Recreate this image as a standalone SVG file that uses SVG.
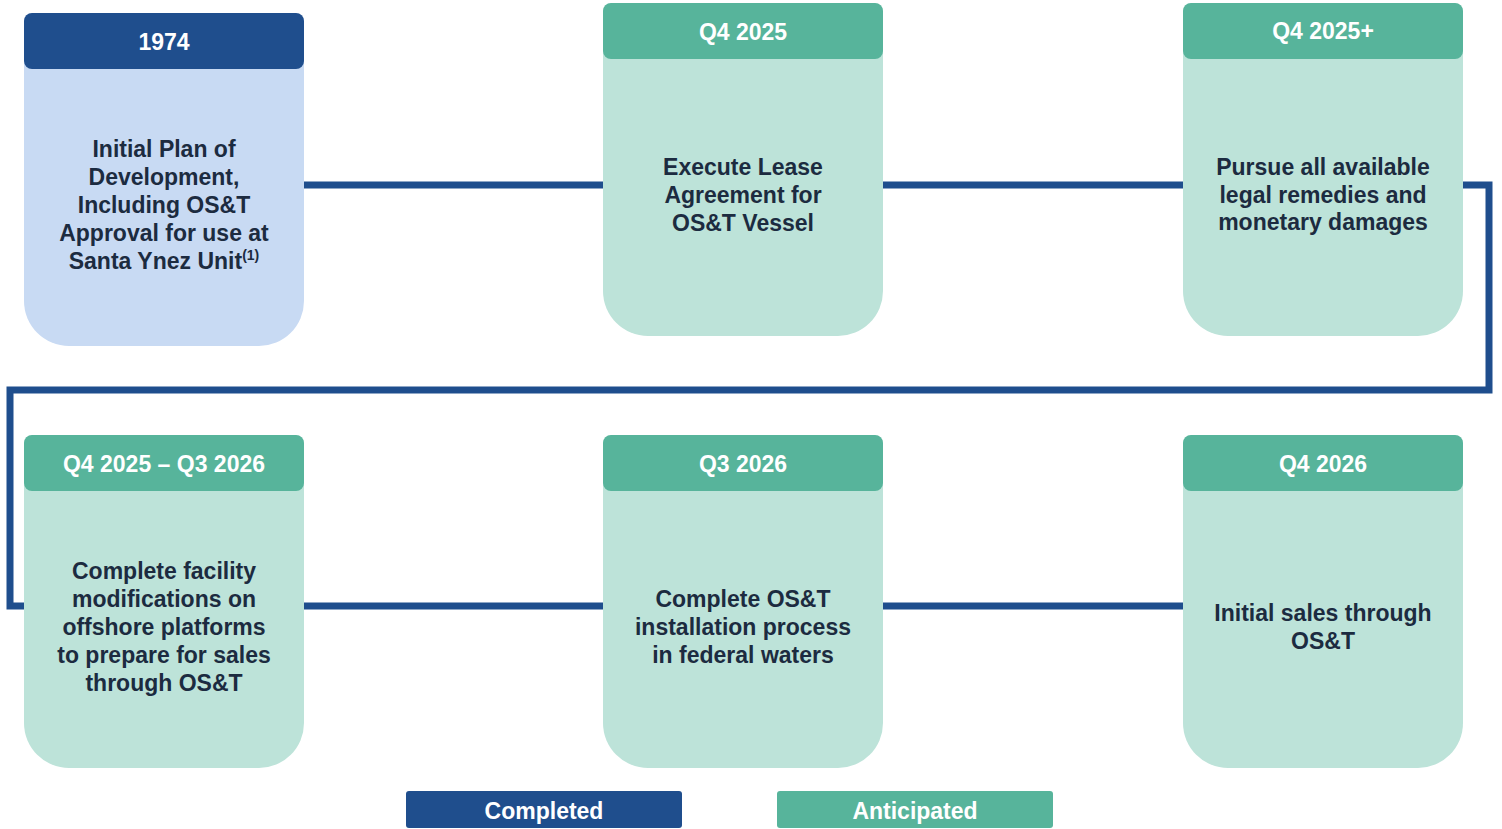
<svg xmlns="http://www.w3.org/2000/svg" xmlns:xlink="http://www.w3.org/1999/xlink" width="1502" height="829" viewBox="0 0 1502 829">
<style>
.conn{fill:none;stroke:#1F4E8D;stroke-width:7;stroke-linejoin:miter}
.hd-done{fill:#1F4E8D}
.bd-done{fill:#C8DAF3}
.hd-ant{fill:#57B49B}
.bd-ant{fill:#BDE3D9}
.ht{font-family:"Liberation Sans",Arial,sans-serif;font-weight:bold;font-size:23px;fill:#FFFFFF;text-anchor:middle}
.bt{font-family:"Liberation Sans",Arial,sans-serif;font-weight:bold;font-size:23px;fill:#1C2B40;text-anchor:middle}
</style>
<defs>
<path id="body" d="M0,10 Q0,0 10,0 H270 Q280,0 280,10 V288 A45,45 0 0 1 235,333 H45 A45,45 0 0 1 0,288 Z"/>
<rect id="head" x="0" y="0" width="280" height="56" rx="8" ry="8"/>
</defs>
<rect width="1502" height="829" fill="#FFFFFF"/>
<g id="connectors">
<path class="conn" d="M304,185 H603"/>
<path class="conn" d="M883,185 H1183"/>
<path class="conn" d="M1463,185 H1489 V390 H10 V606 H24"/>
<path class="conn" d="M304,606 H603"/>
<path class="conn" d="M883,606 H1183"/>
</g>
<g id="node-1974" transform="translate(24,13)">
<use xlink:href="#body" class="bd-done"/>
<use xlink:href="#head" class="hd-done"/>
<text class="ht" x="140" y="37">1974</text>
<text class="bt" x="140" y="144">Initial Plan of</text>
<text class="bt" x="140" y="172">Development,</text>
<text class="bt" x="140" y="200">Including OS&amp;T</text>
<text class="bt" x="140" y="228">Approval for use at</text>
<text class="bt" x="140" y="256">Santa Ynez Unit<tspan font-size="14" dy="-9">(1)</tspan></text>
</g>
<g id="node-q4-2025" transform="translate(603,3)">
<use xlink:href="#body" class="bd-ant"/>
<use xlink:href="#head" class="hd-ant"/>
<text class="ht" x="140" y="37">Q4 2025</text>
<text class="bt" x="140" y="172">Execute Lease</text>
<text class="bt" x="140" y="200">Agreement for</text>
<text class="bt" x="140" y="228">OS&amp;T Vessel</text>
</g>
<g id="node-q4-2025-plus" transform="translate(1183,3)">
<use xlink:href="#body" class="bd-ant"/>
<use xlink:href="#head" class="hd-ant"/>
<text class="ht" x="140" y="36">Q4 2025+</text>
<text class="bt" x="140" y="172">Pursue all available</text>
<text class="bt" x="140" y="200">legal remedies and</text>
<text class="bt" x="140" y="227">monetary damages</text>
</g>
<g id="node-q4-2025-q3-2026" transform="translate(24,435)">
<use xlink:href="#body" class="bd-ant"/>
<use xlink:href="#head" class="hd-ant"/>
<text class="ht" x="140" y="37">Q4 2025 – Q3 2026</text>
<text class="bt" x="140" y="144">Complete facility</text>
<text class="bt" x="140" y="172">modifications on</text>
<text class="bt" x="140" y="200">offshore platforms</text>
<text class="bt" x="140" y="228">to prepare for sales</text>
<text class="bt" x="140" y="256">through OS&amp;T</text>
</g>
<g id="node-q3-2026" transform="translate(603,435)">
<use xlink:href="#body" class="bd-ant"/>
<use xlink:href="#head" class="hd-ant"/>
<text class="ht" x="140" y="37">Q3 2026</text>
<text class="bt" x="140" y="172">Complete OS&amp;T</text>
<text class="bt" x="140" y="200">installation process</text>
<text class="bt" x="140" y="228">in federal waters</text>
</g>
<g id="node-q4-2026" transform="translate(1183,435)">
<use xlink:href="#body" class="bd-ant"/>
<use xlink:href="#head" class="hd-ant"/>
<text class="ht" x="140" y="37">Q4 2026</text>
<text class="bt" x="140" y="186">Initial sales through</text>
<text class="bt" x="140" y="214">OS&amp;T</text>
</g>
<g id="legend-completed">
<rect x="406" y="791" width="276" height="37" rx="3" class="hd-done"/>
<text class="ht" x="544" y="819">Completed</text>
</g>
<g id="legend-anticipated">
<rect x="777" y="791" width="276" height="37" rx="3" class="hd-ant"/>
<text class="ht" x="915" y="819">Anticipated</text>
</g>
</svg>
